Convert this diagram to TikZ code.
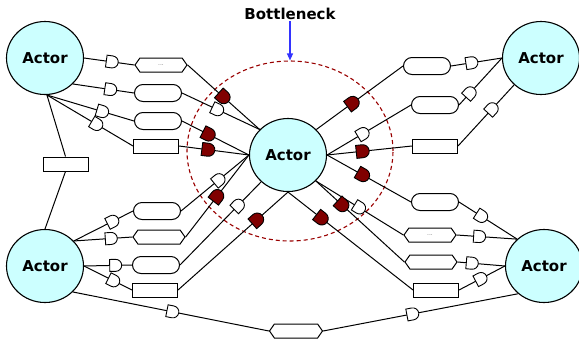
\documentclass[tikz,border=0pt]{standalone}
\usepackage{fontspec}
\setsansfont{DejaVu Sans}
\usetikzlibrary{shapes.geometric,shapes.misc,shapes.symbols,arrows.meta}
\definecolor{actorfill}{HTML}{CCFFFF}
\definecolor{darkport}{HTML}{800000}
\definecolor{bneck}{HTML}{990000}
\definecolor{arrowblue}{HTML}{3333FF}
\begin{document}
\begin{tikzpicture}[x=1pt,y=-1pt,
  actor/.style={ellipse, draw, line width=1.1pt, fill=actorfill, minimum width=77pt, minimum height=73pt, inner sep=0pt, font=\sffamily\bfseries\fontsize{15}{17}\selectfont},
  rbox/.style={rounded rectangle, draw, fill=white, line width=1pt, minimum width=47pt, minimum height=17pt, inner sep=0pt},
  sbox/.style={rectangle, draw, fill=white, line width=1pt, minimum width=45pt, minimum height=14pt, inner sep=0pt},
  hbox/.style={signal, signal to=east and west, signal pointer angle=110, draw, fill=white, line width=1pt, minimum width=52pt, minimum height=14pt, inner sep=0pt, font=\sffamily\fontsize{6}{6}\selectfont, text=gray},
  wport/.style={rounded rectangle, rounded rectangle west arc=none, draw, fill=white, line width=0.9pt, minimum width=10pt, minimum height=12pt, inner sep=0pt, sloped},
  dport/.style={wport, fill=darkport, minimum width=11pt, minimum height=13pt},
  conn/.style={draw, line width=1pt}
]
\useasboundingbox (0,0) rectangle (579,341);
% bottleneck
\node[ellipse, draw=bneck, dashed, dash pattern=on 4pt off 3pt, line width=1.1pt, minimum width=206pt, minimum height=180pt, inner sep=0pt] (bn) at (290,151) {};
\node[font=\sffamily\bfseries\fontsize{15}{17}\selectfont, inner sep=1pt] (lbl) at (290,14) {Bottleneck};
\draw[arrowblue, line width=1.2pt, -{Triangle[length=7pt,width=6pt]}] (lbl.south) -- (bn.north);
% actors
\node[actor] (TL) at (45,58) {Actor};
\node[actor] (TR) at (541,58) {Actor};
\node[actor] (BL) at (45,266) {Actor};
\node[actor] (BR) at (544,266) {Actor};
\node[actor] (C) at (288,155) {Actor};
% boxes
\node[hbox] (h1) at (161,65) {...};
\node[rbox] (r1) at (158,93) {};
\node[rbox] (r2) at (158,121) {};
\node[sbox] (b1) at (156,146) {};
\node[rbox] (r3) at (157,211) {};
\node[hbox] (h2) at (159,237) {};
\node[rbox] (r4) at (156,265) {};
\node[sbox] (b2) at (155,290) {};
\node[rbox] (r5) at (427,66) {};
\node[rbox] (r6) at (435,105) {};
\node[sbox] (b3) at (435,146) {};
\node[rbox] (r7) at (435,202) {};
\node[hbox] (h3) at (430,235) {...};
\node[hbox] (h4) at (431,262) {};
\node[sbox] (b4) at (436,290) {};
\node[hbox, minimum width=53pt] (h5) at (296,331) {};
\node[sbox] (b0) at (65.5,164) {};
% left link
\draw[conn] (TL.-87) -- (b0.north);
\draw[conn] (b0.south) -- (BL.90);
% top-left quadrant
\draw[conn] (TL.0) -- node[wport,pos=.56] (p1) {} (h1.west);
\draw[conn] (h1.east) -- node[dport,pos=.5] (q1) {} (C.138);
\draw[conn] (TL.-43) -- node[wport,pos=.62] (p2) {} (r1.west);
\draw[conn] (r1.east) -- node[wport,pos=.46] (q2) {} (C.138);
\draw[conn] (TL.-87) -- node[wport,pos=.64] (p3) {} (r2.west);
\draw[conn] (r2.east) -- node[dport,pos=.40] (q3) {} (C.180);
\draw[conn] (TL.-87) -- node[wport,pos=.58] (p4) {} (b1.west);
\draw[conn] (b1.east) -- node[dport,pos=.42] (q4) {} (C.180);
% bottom-left quadrant
\draw[conn] (BL.41) -- node[wport,pos=.66] (p5) {} (r3.west);
\draw[conn] (r3.east) -- node[wport,pos=.56] (q5) {} (C.180);
\draw[conn] (BL.41) -- node[wport,pos=.64] (p6) {} (h2.west);
\draw[conn] (h2.east) -- node[dport,pos=.50] (q6) {} (C.180);
\draw[conn] (BL.0) -- node[wport,pos=.66] (p7) {} (r4.west);
\draw[conn] (r4.east) -- node[wport,pos=.72] (q7) {} (C.225);
\draw[conn] (BL.0) -- node[wport,pos=.62] (p8) {} (b2.west);
\draw[conn] (b2.east) -- node[dport,pos=.72] (q8) {} (C.270);
% top-right quadrant
\draw[conn] (C.42) -- node[dport,pos=.42] (q9) {} (r5.west);
\draw[conn] (r5.east) -- node[wport,pos=.41] (p9) {} (TR.180);
\draw[conn] (C.0) -- node[wport,pos=.43] (q10) {} (r6.west);
\draw[conn] (r6.east) -- node[wport,pos=.26] (p10) {} (TR.180);
\draw[conn] (C.0) -- node[dport,pos=.42] (q11) {} (b3.west);
\draw[conn] (b3.east) -- node[wport,pos=.61] (p11) {} (TR.-135);
% bottom-right quadrant
\draw[conn] (C.0) -- node[dport,pos=.43] (q12) {} (r7.west);
\draw[conn] (r7.east) -- node[wport,pos=.39] (p12) {} (BR.135);
\draw[conn] (C.-43) -- node[wport,pos=.50] (q13) {} (h3.west);
\draw[conn] (h3.east) -- node[wport,pos=.38] (p13) {} (BR.135);
\draw[conn] (C.-43) -- node[dport,pos=.30] (q14) {} (h4.west);
\draw[conn] (h4.east) -- node[wport,pos=.31] (p14) {} (BR.180);
\draw[conn] (C.270) -- node[dport,pos=.27] (q15) {} (b4.west);
\draw[conn] (b4.east) -- node[wport,pos=.48] (p15) {} (BR.180);
% bottom link
\draw[conn] (BL.-43) -- node[wport,pos=.51] (p16) {} (h5.west);
\draw[conn] (h5.east) -- node[wport,pos=.46] (p17) {} (BR.-133);
\end{tikzpicture}
\end{document}
